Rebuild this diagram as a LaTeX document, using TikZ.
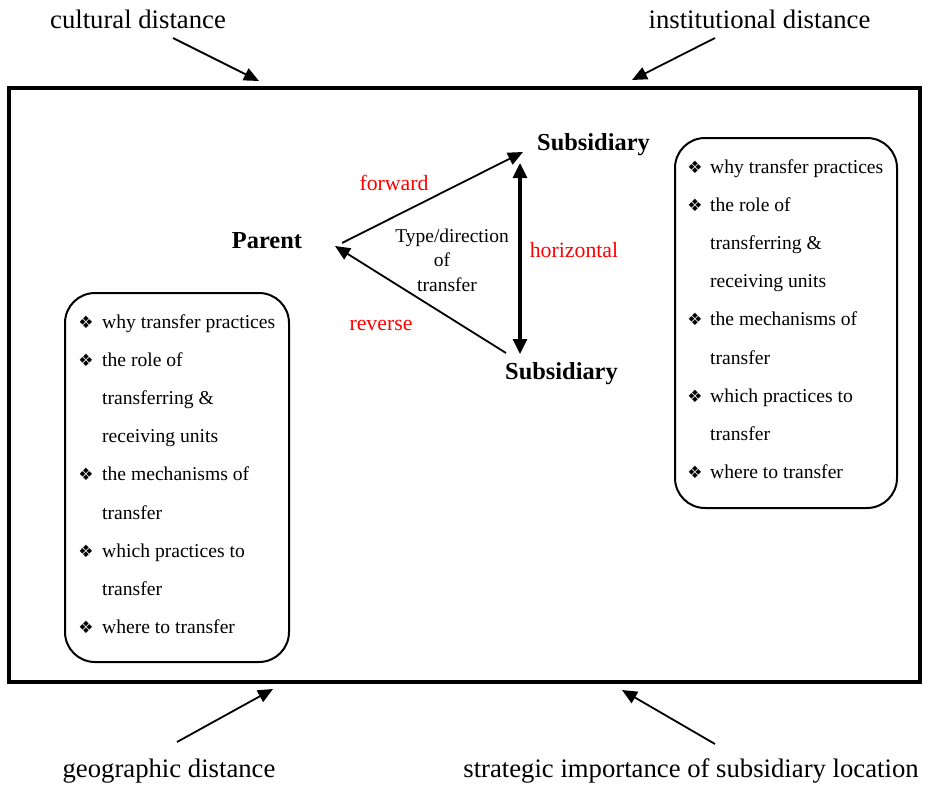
\documentclass[tikz,border=0pt]{standalone}
\usepackage{fontspec}
\setmainfont{Liberation Serif}
\newfontfamily\symfont{DejaVu Sans}
\usetikzlibrary{arrows.meta}

\begin{document}
\begin{tikzpicture}[x=1pt, y=-1pt,
    lab/.style={anchor=base, inner sep=0, font=\fontsize{26.7}{32}\selectfont},
    item/.style={anchor=base west, inner sep=0, font=\fontsize{19.6}{24}\selectfont},
    bul/.style={anchor=base, inner sep=0, font=\symfont\fontsize{17}{19}\selectfont},
    unit/.style={anchor=base, inner sep=0, font=\bfseries\fontsize{24.4}{29}\selectfont},
    kind/.style={anchor=base, inner sep=0, text={rgb,255:red,255;green,0;blue,0}, font=\fontsize{21.8}{26}\selectfont},
    mid/.style={anchor=base, inner sep=0, font=\fontsize{19.5}{24}\selectfont},
    arr/.style={line width=1.8pt, -{Triangle[length=15pt,width=13pt]}},
    listbox/.style={draw, line width=2pt, rounded corners=30pt, inner sep=0}]
    \useasboundingbox (0,0) rectangle (928,785);

    \draw [line width=3.5pt] (9,88) rectangle (920,682);

    \node [lab] (cult) at (138,28) {cultural distance};
    \node [lab] (inst) at (759.5,28) {institutional distance};
    \node [lab] (geo) at (169,777) {geographic distance};
    \node [lab] (strat) at (691,777) {strategic importance of subsidiary location};
    \coordinate (cultA) at (173,38);
    \coordinate (cultB) at (259,81);
    \coordinate (instA) at (715,38);
    \coordinate (instB) at (632,80);
    \coordinate (geoA) at (177,742);
    \coordinate (geoB) at (273,689);
    \coordinate (stratA) at (715,744);
    \coordinate (stratB) at (622,690);
    \draw [arr] (cultA) -- (cultB);
    \draw [arr] (instA) -- (instB);
    \draw [arr] (geoA) -- (geoB);
    \draw [arr] (stratA) -- (stratB);

    \node [unit] (par) at (267,248) {Parent};
    \node [unit] (subT) at (593.5,150) {Subsidiary};
    \node [unit] (subB) at (561.5,379) {Subsidiary};
    \coordinate (fwdA) at (342,243);
    \coordinate (fwdB) at (523,152);
    \coordinate (revA) at (506,353);
    \coordinate (revB) at (335,246);
    \coordinate (horT) at (520,163);
    \coordinate (horB) at (520,354);
    \draw [arr] (fwdA) -- (fwdB);
    \draw [arr] (revA) -- (revB);
    \draw [arr, line width=3.2pt, {Triangle[length=15pt,width=14pt]}-{Triangle[length=15pt,width=14pt]}] (horT) -- (horB);
    \node [kind] (fwd) at (394,190) {forward};
    \node [kind] (hor) at (574,257) {horizontal};
    \node [kind] (rev) at (381,330) {reverse};
    \node [mid] (mid1) at (452,242) {Type/direction};
    \node [mid] (mid2) at (442,266) {of};
    \node [mid] (mid3) at (447,291) {transfer};

    \node [listbox, minimum width=224pt, minimum height=369pt] (lbox) at (177,477.5) {};
    \node [bul] (lb1) at (86,328) {❖};
    \node [item] (li1) at (102,328) {why transfer practices};
    \node [bul] (lb2) at (86,366.2) {❖};
    \node [item] (li2) at (102,366.2) {the role of};
    \node [item] (li3) at (102,404.4) {transferring \&};
    \node [item] (li4) at (102,442.6) {receiving units};
    \node [bul] (lb5) at (86,480.8) {❖};
    \node [item] (li5) at (102,480.8) {the mechanisms of};
    \node [item] (li6) at (102,519) {transfer};
    \node [bul] (lb7) at (86,557.2) {❖};
    \node [item] (li7) at (102,557.2) {which practices to};
    \node [item] (li8) at (102,595.4) {transfer};
    \node [bul] (lb9) at (86,633.6) {❖};
    \node [item] (li9) at (102,633.6) {where to transfer};

    \node [listbox, minimum width=222pt, minimum height=370pt] (rbox) at (786,323) {};
    \node [bul] (rb1) at (695,173) {❖};
    \node [item] (ri1) at (710,173) {why transfer practices};
    \node [bul] (rb2) at (695,211.2) {❖};
    \node [item] (ri2) at (710,211.2) {the role of};
    \node [item] (ri3) at (710,249.4) {transferring \&};
    \node [item] (ri4) at (710,287.6) {receiving units};
    \node [bul] (rb5) at (695,325.8) {❖};
    \node [item] (ri5) at (710,325.8) {the mechanisms of};
    \node [item] (ri6) at (710,364) {transfer};
    \node [bul] (rb7) at (695,402.2) {❖};
    \node [item] (ri7) at (710,402.2) {which practices to};
    \node [item] (ri8) at (710,440.4) {transfer};
    \node [bul] (rb9) at (695,478.6) {❖};
    \node [item] (ri9) at (710,478.6) {where to transfer};
\end{tikzpicture}
\end{document}
